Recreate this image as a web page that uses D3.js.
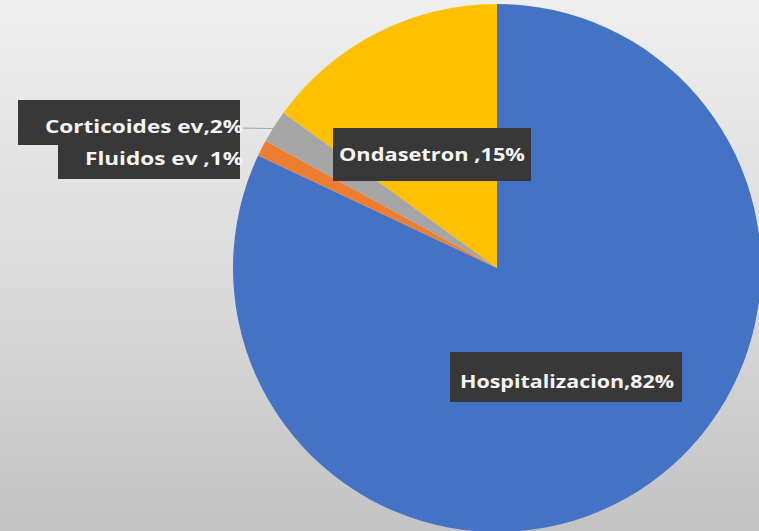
<!DOCTYPE html>
<html>
<head>
<meta charset="utf-8">
<script src="https://cdn.jsdelivr.net/npm/d3@7"></script>
<style>
  body { margin: 0; padding: 0; overflow: hidden; }
  text { font-family: "Open Sans", "DejaVu Sans", sans-serif; font-weight: bold; }
</style>
</head>
<body>
<div id="my_dataviz"></div>
<script>
var width = 759;
var height = 531;

// data, clockwise from 12 o'clock
var categories = ['Hospitalizacion', 'Fluidos ev', 'Corticoides ev', 'Ondasetron'];
var values = [82, 1, 2, 15];
var label_text = ['Hospitalizacion,82%', 'Fluidos ev ,1%', 'Corticoides ev,2%', 'Ondasetron ,15%'];
var colours = ['#4472C4', '#ED7D31', '#A5A5A5', '#FFC000'];

var svg = d3.select('#my_dataviz').append('svg').attr('width', width).attr('height', height);

var defs = svg.append('defs');
var grad = defs.append('linearGradient').attr('id', 'bg').attr('x1', 0).attr('y1', 0).attr('x2', 0).attr('y2', 1);
grad.append('stop').attr('offset', '0%').attr('stop-color', '#efefef');
grad.append('stop').attr('offset', '50%').attr('stop-color', '#dcdcdc');
grad.append('stop').attr('offset', '100%').attr('stop-color', '#c3c3c3');

svg.append('rect').attr('width', width).attr('height', height).attr('fill', 'url(#bg)');

var cx = 497, cy = 268, radius = 264;

var data = categories.map(function(c, i){
    return {name: c, value: values[i], label: label_text[i], colour: colours[i]};
});

var pie = d3.pie().sort(null).value(function(d){ return d.value; });
var arc = d3.arc().innerRadius(0).outerRadius(radius);
var colour_scale = d3.scaleOrdinal().domain(categories).range(colours);

var pie_group = svg.append('g').attr('transform', 'translate(' + cx + ',' + cy + ')');
pie_group.selectAll('path').data(pie(data)).enter().append('path')
    .attr('d', arc)
    .attr('fill', function(d){ return colour_scale(d.data.name); });

// label boxes (position in page coords)
var boxes = {
    'Hospitalizacion': {x: 450, y: 352, w: 232, h: 50, tx: 567, ty: 388, tl: 214},
    'Ondasetron':      {x: 333, y: 128, w: 198, h: 53, tx: 432, ty: 161, tl: 186},
    'Corticoides ev':  {x: 18,  y: 100, w: 222, h: 45, tx: 243, ty: 133, tl: 198, anchor: 'end'},
    'Fluidos ev':      {x: 58,  y: 144, w: 182, h: 35, tx: 243, ty: 165, tl: 158, anchor: 'end'}
};

var label_group = svg.append('g').attr('class', 'label_group');

// leader line for Corticoides
var pies = pie(data);
var cort = pies[2];
var mid = (cort.startAngle + cort.endAngle) / 2;
label_group.append('line')
    .attr('x1', 240).attr('y1', 128)
    .attr('x2', cx + Math.sin(mid) * (radius - 4))
    .attr('y2', cy - Math.cos(mid) * (radius - 4))
    .attr('stroke', '#a6a6a6').attr('stroke-width', 1);

data.forEach(function(d){
    var b = boxes[d.name];
    label_group.append('rect')
        .attr('x', b.x).attr('y', b.y).attr('width', b.w).attr('height', b.h)
        .attr('fill', '#383838');
});

data.forEach(function(d){
    var b = boxes[d.name];
    label_group.append('text')
        .attr('x', b.tx).attr('y', b.ty)
        .attr('text-anchor', b.anchor || 'middle')
        .attr('fill', '#f4f4f4')
        .attr('font-size', 17)
        .attr('textLength', b.tl)
        .attr('lengthAdjust', 'spacingAndGlyphs')
        .text(d.label);
});
</script>
</body>
</html>
